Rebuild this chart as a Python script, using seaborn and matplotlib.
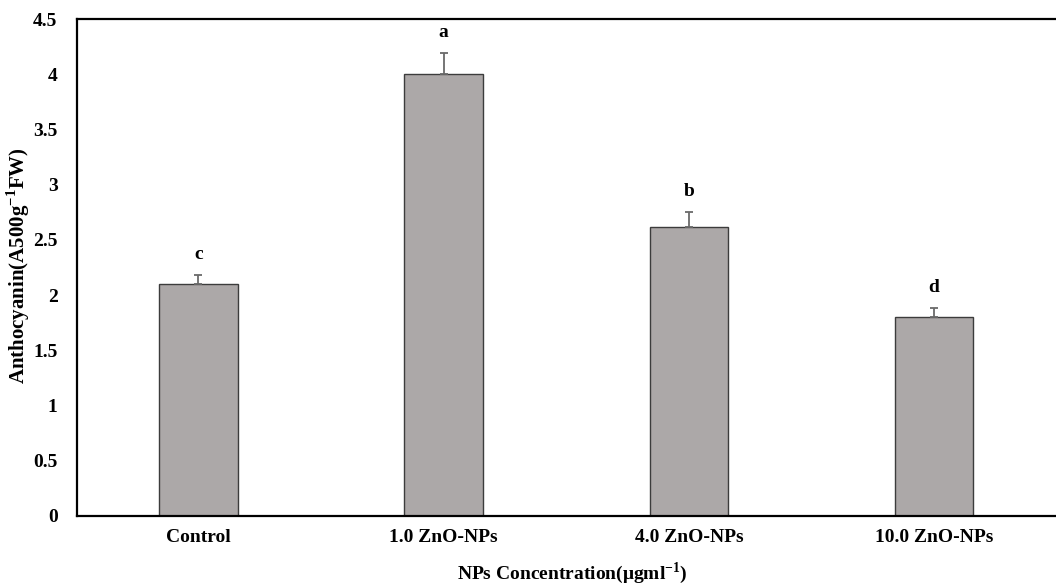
import matplotlib
matplotlib.use("Agg")
import matplotlib.pyplot as plt
import seaborn as sns
import pandas as pd

# Anthocyanin content per ZnO-NP treatment
treatments = ["Control", "1.0 ZnO-NPs", "4.0 ZnO-NPs", "10.0 ZnO-NPs"]
anthocyanin = [2.10, 4.00, 2.62, 1.80]
std_err = [0.08, 0.19, 0.13, 0.08]
letters = ["c", "a", "b", "d"]

df = pd.DataFrame({"treatment": treatments, "anthocyanin": anthocyanin})

sns.set_theme(style="white")
plt.rcParams["font.family"] = ["Liberation Serif", "DejaVu Serif"]
plt.rcParams["font.weight"] = "bold"
plt.rcParams["mathtext.fontset"] = "custom"
plt.rcParams["mathtext.rm"] = "Liberation Serif:bold"
plt.rcParams["mathtext.bf"] = "Liberation Serif:bold"

fig = plt.figure(figsize=(10.56, 5.85), dpi=100)
ax = fig.add_axes([77 / 1056, 1 - 516 / 585, (1064 - 77) / 1056, (516 - 19) / 585])

sns.barplot(data=df, x="treatment", y="anthocyanin", order=treatments,
            color="#aca8a8", saturation=1, width=0.32, errorbar=None,
            edgecolor="#3c3c3c", linewidth=1.0, ax=ax)

# one-sided (upper) error bars
xs = range(len(treatments))
ax.errorbar(xs, anthocyanin, yerr=[[0] * len(std_err), std_err], fmt="none",
            ecolor="#6a6a6a", elinewidth=1.3, capsize=3, capthick=1.3, zorder=3)

# significance letters
for x, v, e, lab in zip(xs, anthocyanin, std_err, letters):
    ax.text(x, v + e + 0.19, lab, ha="center", va="center",
            fontsize=14, fontweight="bold", color="black")

ax.set_xlim(-0.495, 3.53)
ax.set_ylim(0, 4.5)
ax.set_yticks([0, 0.5, 1, 1.5, 2, 2.5, 3, 3.5, 4, 4.5])
ax.set_yticklabels(["0", "0.5", "1", "1.5", "2", "2.5", "3", "3.5", "4", "4.5"])
ax.tick_params(axis="both", length=0, labelsize=14, colors="black")
ax.tick_params(axis="y", pad=14)
ax.tick_params(axis="x", pad=9)
for lab in ax.get_xticklabels() + ax.get_yticklabels():
    lab.set_fontweight("bold")

for side in ["left", "right", "top", "bottom"]:
    ax.spines[side].set_visible(True)
    ax.spines[side].set_color("black")
    ax.spines[side].set_linewidth(1.6)

ax.set_xlabel("")
ax.set_ylabel(r"Anthocyanin(A500g$^{\mathrm{-1}}$FW)", fontsize=15,
              fontweight="bold", color="black")
ax.yaxis.set_label_coords(-45 / 987, 0.503)
fig.text(572 / 1056, 1 - 573 / 585, r"NPs Concentration(μgml$^{\mathrm{-1}}$)",
         ha="center", va="center", fontsize=14, fontweight="bold", color="black")

fig.savefig("out.png", dpi=100, facecolor="white")
